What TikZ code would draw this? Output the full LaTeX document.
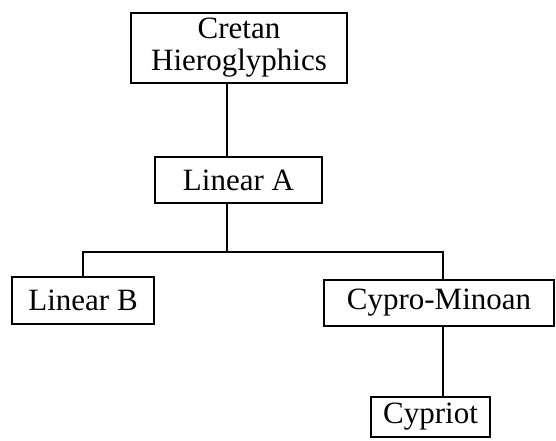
\documentclass[tikz,border=0pt]{standalone}
\usepackage{fontspec}
\setmainfont{Liberation Serif}
\usetikzlibrary{positioning}

\begin{document}
\begin{tikzpicture}[x=1pt, y=-1pt,
    box/.style={draw, line width=2.8pt, inner sep=0pt, align=center,
      font=\fontsize{31}{32}\selectfont}]
    \useasboundingbox (0,0) rectangle (556,440);

    % Draw the script boxes
    \node[box, minimum width=216, minimum height=70] (cretan) at (239,48) {Cretan\\Hieroglyphics};
    \node[box, minimum width=167, minimum height=46] (linA) at (238.5,180) {Linear A};
    \node[box, minimum width=142, minimum height=47] (linB) at (83,300.5) {Linear B};
    \node[box, minimum width=230, minimum height=46] (cypmin) at (439,303) {Cypro-Minoan};
    \node[box, minimum width=119, minimum height=40] (cypriot) at (430.5,417) {Cypriot};

    % Junction points of the tree
    \coordinate (fork) at (227,252);
    \coordinate (legB) at (83,252);
    \coordinate (legC) at (443,252);

    % Draw the connecting lines
    \draw[line width=2.8pt] (cretan.south -| fork) -- (linA.north -| fork);
    \draw[line width=2.8pt] (linA.south -| fork) -- (fork);
    \draw[line width=2.8pt] (linB.north -| legB) -- (legB) -- (legC) -- (cypmin.north -| legC);
    \draw[line width=2.8pt] (cypmin.south -| legC) -- (cypriot.north -| legC);
\end{tikzpicture}
\end{document}
